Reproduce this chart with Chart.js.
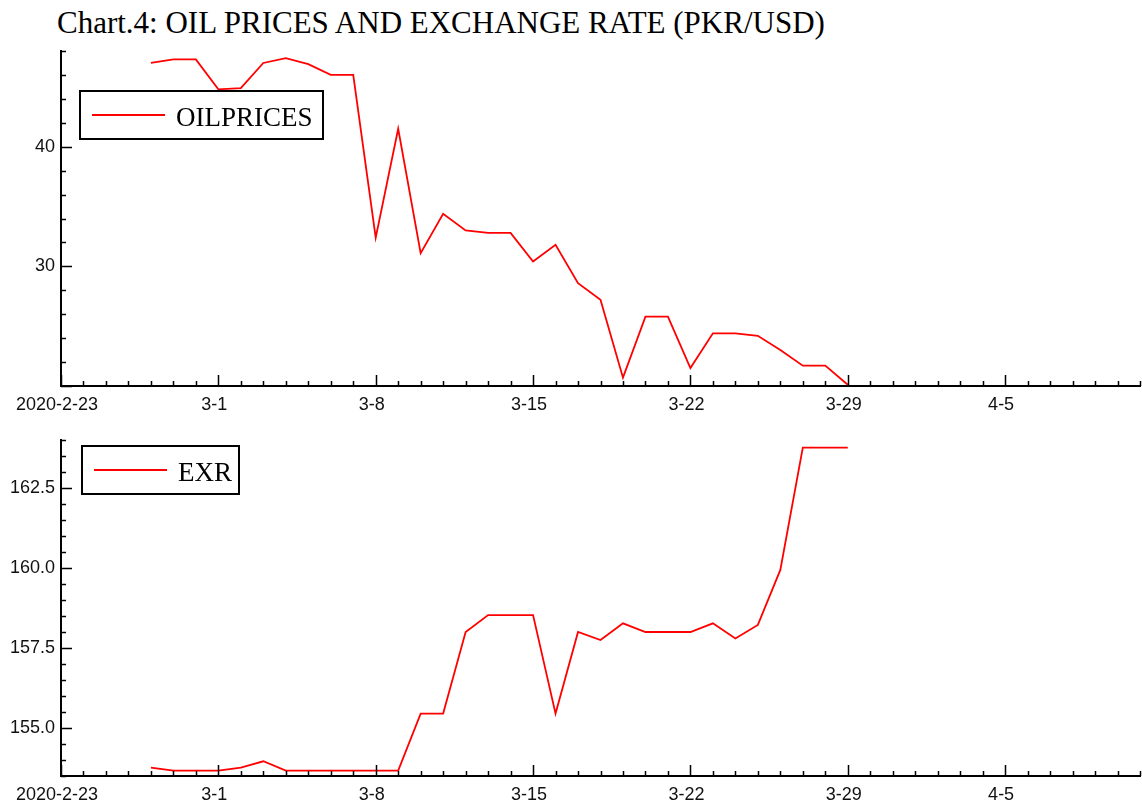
<!DOCTYPE html>
<html lang="en">
  <head>
    <meta charset="UTF-8" />
    <script src="https://cdn.jsdelivr.net/npm/chart.js"></script>
    <title>Chart.4: Oil prices and exchange rate</title>
    <style>
      body { margin: 0; background: #fff; }
      #wrap { position: relative; width: 1142px; height: 806px; }
      #titulo {
        position: absolute; left: 57px; top: 7px;
        font-family: "Liberation Serif", serif; font-size: 31px; line-height: 31px;
        color: #000; white-space: nowrap;
      }
      canvas { position: absolute; left: 0; }
    </style>
  </head>
  <body>
    <div id="wrap">
      <div id="titulo">Chart.4: OIL PRICES AND EXCHANGE RATE (PKR/USD)</div>
      <canvas id="graficoOil" style="top:0" width="1142" height="420"></canvas>
      <canvas id="graficoExr" style="top:420px" width="1142" height="386"></canvas>
    </div>

    <script>
      // dados
      const datas = [
        "2020-02-27", "2020-02-28", "2020-02-29", "2020-03-01", "2020-03-02", "2020-03-03",
        "2020-03-04", "2020-03-05", "2020-03-06", "2020-03-07", "2020-03-08", "2020-03-09",
        "2020-03-10", "2020-03-11", "2020-03-12", "2020-03-13", "2020-03-14", "2020-03-15",
        "2020-03-16", "2020-03-17", "2020-03-18", "2020-03-19", "2020-03-20", "2020-03-21",
        "2020-03-22", "2020-03-23", "2020-03-24", "2020-03-25", "2020-03-26", "2020-03-27",
        "2020-03-28", "2020-03-29"
      ];
      const oilPrices = [
        47.0, 47.3, 47.3, 44.8, 44.9, 47.0, 47.4, 46.9, 46.0, 46.0, 32.4, 41.5,
        31.1, 34.4, 33.0, 32.8, 32.8, 30.4, 31.8, 28.6, 27.2, 20.7, 25.8, 25.8,
        21.5, 24.4, 24.4, 24.2, 23.0, 21.7, 21.7, 20.1
      ];
      const exr = [
        153.76, 153.67, 153.67, 153.67, 153.76, 153.96, 153.67, 153.67, 153.67, 153.67, 153.67, 153.67,
        155.45, 155.45, 158.0, 158.53, 158.53, 158.53, 155.45, 158.0, 157.75, 158.27, 158.0, 158.0,
        158.0, 158.27, 157.8, 158.22, 159.94, 163.76, 163.76, 163.76
      ];
      const xTickLabels = ["2020-2-23", "3-1", "3-8", "3-15", "3-22", "3-29", "4-5"];
      const oilTickLabels = [30, 40];
      const exrTickLabels = [155, 157.5, 160, 162.5];

      const inicio = Date.UTC(2020, 1, 23);
      const dia = (s) => (Date.parse(s + "T00:00:00Z") - inicio) / 86400000;

      // desenha os tracinhos (maiores e menores) e a caixa da legenda
      const tracos = {
        id: "tracos",
        afterDraw(chart, args, o) {
          const c = chart.ctx, a = chart.chartArea;
          const sx = chart.scales.x, sy = chart.scales.y;
          c.save();
          c.strokeStyle = "#000";
          c.lineWidth = 1.5;
          c.beginPath();
          for (let d = sx.min; d <= sx.max; d += 1) {
            const px = Math.round(sx.getPixelForValue(d)) + 0.5;
            const len = d % 7 === 0 ? 11 : 5;
            c.moveTo(px, a.bottom);
            c.lineTo(px, a.bottom - len);
          }
          for (let v = sy.min; v <= sy.max + 1e-6; v += o.minor) {
            const py = Math.round(sy.getPixelForValue(v)) + 0.5;
            const maior = Math.abs(v / o.major - Math.round(v / o.major)) < 1e-6;
            c.moveTo(a.left, py);
            c.lineTo(a.left + (maior ? 11 : 5), py);
          }
          c.stroke();

          // legenda
          const b = o.box;
          c.fillStyle = "#fff";
          c.fillRect(b.x, b.y, b.w, b.h);
          c.lineWidth = 2;
          c.strokeRect(b.x, b.y, b.w, b.h);
          c.strokeStyle = "#ff0000";
          c.lineWidth = 1.8;
          c.beginPath();
          c.moveTo(b.x + 12, b.y + 24);
          c.lineTo(b.x + 85, b.y + 24);
          c.stroke();
          c.fillStyle = "#000";
          c.font = '27px "Liberation Serif"';
          c.textBaseline = "alphabetic";
          c.fillText(chart.data.datasets[0].label, b.x + 96, b.y + 35);
          c.restore();
        },
      };

      const criarGrafico = (id, label, valores, yMin, yMax, yStep, yLabels, fmt, padTop, xAltura, caixa, minor, major) => {
        return new Chart(document.getElementById(id), {
          type: "line",
          data: {
            datasets: [
              {
                label: label,
                data: datas.map((d, i) => ({ x: dia(d), y: valores[i] })),
                borderColor: "#ff0000",
                borderWidth: 1.8,
                pointRadius: 0,
                tension: 0,
                fill: false,
              },
            ],
          },
          options: {
            responsive: false,
            animation: false,
            layout: { padding: { top: padTop, right: 2, left: 0, bottom: 0 } },
            plugins: {
              legend: { display: false },
              tooltip: { enabled: false },
              tracos: { box: caixa, minor: minor, major: major },
            },
            scales: {
              x: {
                type: "linear",
                min: 0,
                max: 48,
                grid: { display: false, drawTicks: false },
                border: { display: true, color: "#000", width: 2 },
                afterFit: (s) => { s.height = xAltura; },
                ticks: {
                  stepSize: 7,
                  includeBounds: false,
                  autoSkip: false,
                  maxRotation: 0,
                  padding: 8,
                  labelOffset: -4,
                  color: "#111",
                  font: { family: "Liberation Sans", size: 18 },
                  callback: (v) => (v % 7 === 0 ? xTickLabels[v / 7] : ""),
                },
              },
              y: {
                min: yMin,
                max: yMax,
                grid: { display: false, drawTicks: false },
                border: { display: true, color: "#000", width: 2 },
                afterFit: (s) => { s.width = 61; },
                ticks: {
                  stepSize: yStep,
                  includeBounds: false,
                  padding: 6,
                  color: "#111",
                  font: { family: "Liberation Sans", size: 18 },
                  callback: (v) => (yLabels.some((t) => Math.abs(t - v) < 1e-6) ? fmt(v) : ""),
                },
              },
            },
          },
          plugins: [tracos],
        });
      };

      criarGrafico("graficoOil", "OILPRICES", oilPrices, 20, 48, 10, oilTickLabels,
        (v) => String(v), 51, 34, { x: 80, y: 91, w: 243, h: 48 }, 2, 10);
      criarGrafico("graficoExr", "EXR", exr, 153.5, 164, 2.5, exrTickLabels,
        (v) => v.toFixed(1), 20, 30, { x: 82, y: 26, w: 157, h: 48 }, 0.5, 2.5);
    </script>
  </body>
</html>
